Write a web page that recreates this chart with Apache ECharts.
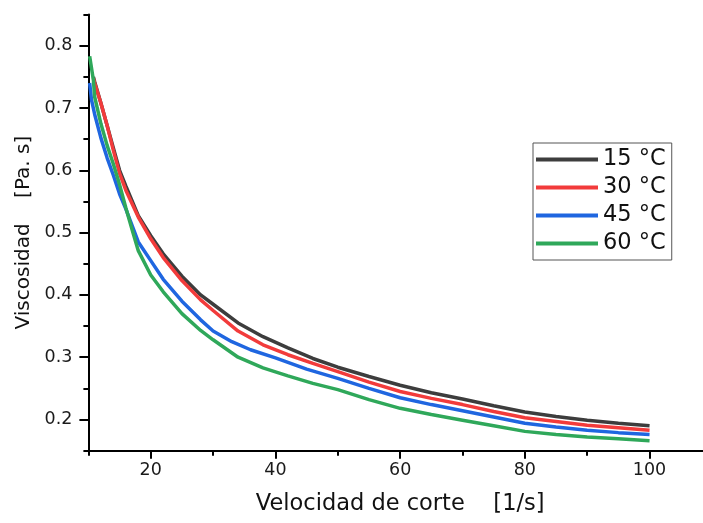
<!DOCTYPE html>
<html>
<head>
<meta charset="utf-8">
<script src="https://cdn.jsdelivr.net/npm/echarts@6/dist/echarts.min.js"></script>
<style>html,body{margin:0;padding:0;background:#fff;}#c{width:703px;height:523px;}</style>
</head>
<body>
<div id="c"></div>
<script>
// ---- data ----
const seriesNames = ['15 °C', '30 °C', '45 °C', '60 °C'];
const seriesColors = ['#3d3d3d', '#f23b3b', '#1f66e0', '#2fa85a'];

const x15 = [10.8, 11, 12, 13, 14, 15, 16, 18, 20, 22, 25, 28, 30, 34, 38, 42, 46, 50, 55, 60, 65, 70, 75, 80, 85, 90, 95, 100];
const v15 = [0.750, 0.742, 0.708, 0.672, 0.636, 0.600, 0.575, 0.527, 0.495, 0.466, 0.430, 0.400, 0.385, 0.355, 0.333, 0.315, 0.298, 0.284, 0.269, 0.255, 0.243, 0.233, 0.222, 0.212, 0.205, 0.199, 0.194, 0.190];

const x30 = [10.8, 11, 12, 13, 14, 15, 16, 18, 20, 22, 25, 28, 30, 34, 38, 42, 46, 50, 55, 60, 65, 70, 75, 80, 85, 90, 95, 100];
const v30 = [0.748, 0.740, 0.708, 0.672, 0.632, 0.595, 0.568, 0.525, 0.490, 0.460, 0.423, 0.392, 0.375, 0.342, 0.320, 0.304, 0.290, 0.277, 0.260, 0.245, 0.234, 0.224, 0.213, 0.203, 0.197, 0.191, 0.187, 0.183];

const x45 = [10.2, 10.5, 11, 12, 13, 14, 15, 16, 18, 20, 22, 25, 28, 30, 33, 36, 40, 45, 50, 55, 60, 65, 70, 75, 80, 85, 90, 95, 100];
const v45 = [0.740, 0.713, 0.690, 0.652, 0.620, 0.592, 0.562, 0.538, 0.485, 0.455, 0.425, 0.390, 0.360, 0.342, 0.325, 0.312, 0.299, 0.281, 0.266, 0.250, 0.235, 0.224, 0.214, 0.204, 0.194, 0.188, 0.183, 0.179, 0.176];

const x60 = [10.2, 10.8, 11, 12, 13, 14, 15, 16, 17, 18, 20, 22, 25, 28, 30, 34, 38, 42, 46, 50, 55, 60, 65, 70, 75, 80, 85, 90, 95, 100];
const v60 = [0.783, 0.745, 0.718, 0.675, 0.640, 0.610, 0.577, 0.540, 0.505, 0.471, 0.432, 0.405, 0.370, 0.343, 0.328, 0.300, 0.283, 0.270, 0.258, 0.248, 0.232, 0.218, 0.208, 0.199, 0.190, 0.181, 0.176, 0.172, 0.169, 0.166];

const xTicks = [20, 40, 60, 80, 100];
const xMinorTicks = [10, 30, 50, 70, 90];
const yTicks = [0.2, 0.3, 0.4, 0.5, 0.6, 0.7, 0.8];
const yMinorTicks = [0.15, 0.25, 0.35, 0.45, 0.55, 0.65, 0.75, 0.85];

const xTitle = 'Velocidad de corte    [1/s]';
const yTitle = 'Viscosidad    [Pa. s]';

// ---- chart ----
const xsAll = [x15, x30, x45, x60];
const vsAll = [v15, v30, v45, v60];
const FONT = 'DejaVu Sans';

const gridCfg = { left: 88.4, top: 14.5, width: 623.5, height: 436.2, outerBoundsMode: 'none', containLabel: false };

const chart = echarts.init(document.getElementById('c'), null, { renderer: 'canvas' });
chart.setOption({
  animation: false,
  backgroundColor: '#ffffff',
  grid: gridCfg,
  legend: {
    orient: 'vertical',
    left: 533, top: 143,
    padding: [5, 6, 5, 3],
    borderColor: '#555',
    borderWidth: 1,
    itemGap: 5,
    itemWidth: 62,
    itemHeight: 4,
    icon: 'rect',
    textStyle: { fontFamily: FONT, fontSize: 22.5, color: '#111', padding: [0, 0, 0, 0] },
    data: seriesNames
  },
  xAxis: [{
    type: 'value', min: 10, max: 110,
    name: xTitle, nameLocation: 'middle', nameGap: 42,
    nameTextStyle: { fontFamily: FONT, fontSize: 22.5, color: '#111' },
    axisLine: { show: true, onZero: false, lineStyle: { color: '#000', width: 2 } },
    axisTick: { show: true, length: 8, customValues: xTicks, lineStyle: { color: '#000', width: 2 } },
    axisLabel: { customValues: xTicks, margin: 11, fontFamily: FONT, fontSize: 17.5, color: '#1a1a1a' },
    splitLine: { show: false }
  }, {
    type: 'value', min: 10, max: 110, position: 'bottom',
    axisLine: { show: false },
    axisTick: { show: true, length: 5, customValues: xMinorTicks, lineStyle: { color: '#000', width: 2 } },
    axisLabel: { show: false },
    splitLine: { show: false }
  }],
  yAxis: [{
    type: 'value', min: 0.15, max: 0.85,
    name: yTitle, nameLocation: 'middle', nameGap: 55,
    nameTextStyle: { fontFamily: FONT, fontSize: 20, color: '#111' },
    axisLine: { show: true, onZero: false, lineStyle: { color: '#000', width: 2 } },
    axisTick: { show: true, length: 9, customValues: yTicks, lineStyle: { color: '#000', width: 2 } },
    axisLabel: { customValues: yTicks, margin: 16, fontFamily: FONT, fontSize: 17.5, color: '#1a1a1a',
      formatter: v => v.toFixed(1) },
    splitLine: { show: false }
  }, {
    type: 'value', min: 0.15, max: 0.85, position: 'left',
    axisLine: { show: false },
    axisTick: { show: true, length: 5, customValues: yMinorTicks, lineStyle: { color: '#000', width: 2 } },
    axisLabel: { show: false },
    splitLine: { show: false }
  }],
  series: seriesNames.map((name, i) => ({
    name: name,
    type: 'line',
    xAxisIndex: 0, yAxisIndex: 0,
    data: xsAll[i].map((x, k) => [x, vsAll[i][k]]),
    symbol: 'none',
    smooth: false,
    color: seriesColors[i],
    lineStyle: { color: seriesColors[i], width: 3.5 },
    z: 2 + i
  }))
});
</script>
</body>
</html>
